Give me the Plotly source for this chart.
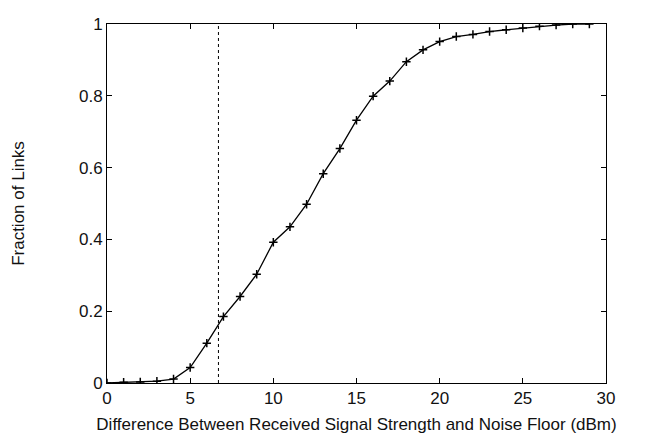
import plotly.graph_objects as go

x_vals = list(range(0, 30))
y_vals = [0.0, 0.002, 0.003, 0.005, 0.011, 0.043, 0.111, 0.185, 0.241, 0.303,
          0.392, 0.435, 0.498, 0.583, 0.653, 0.732, 0.799, 0.841, 0.895, 0.928,
          0.951, 0.965, 0.971, 0.979, 0.984, 0.989, 0.994, 0.997, 1.0, 1.0]
threshold_x = 6.7
x_ticks = [0, 5, 10, 15, 20, 25, 30]
y_ticks = [0, 0.2, 0.4, 0.6, 0.8, 1]
y_tick_labels = ["0", "0.2", "0.4", "0.6", "0.8", "1"]

fig = go.Figure()
fig.add_trace(go.Scatter(
    x=x_vals, y=y_vals, mode="lines+markers",
    line=dict(color="black", width=1.3),
    marker=dict(symbol="cross-thin", size=6, line=dict(color="black", width=1.5)),
    showlegend=False,
))
fig.add_trace(go.Scatter(
    x=[threshold_x, threshold_x], y=[0, 1], mode="lines",
    line=dict(color="black", width=1, dash="dot"),
    showlegend=False,
))

font = dict(family="Liberation Sans, Arial, sans-serif", size=17, color="#111")
fig.update_layout(
    width=657, height=438,
    margin=dict(l=99, r=59, t=16, b=63),
    plot_bgcolor="white", paper_bgcolor="white",
    font=font,
)
fig.update_xaxes(
    range=[0, 30], tickvals=x_ticks, ticks="inside", ticklen=5, tickcolor="black",
    showline=True, linecolor="black", linewidth=1, mirror="ticks",
    showgrid=False, zeroline=False, automargin=False,
    title=dict(text="Difference Between Received Signal Strength and Noise Floor (dBm)",
               standoff=10, font=font),
    tickfont=font,
)
fig.update_yaxes(
    range=[0, 1], tickvals=y_ticks, ticktext=y_tick_labels, ticks="inside", ticklen=5,
    tickcolor="black",
    showline=True, linecolor="black", linewidth=1, mirror="ticks",
    showgrid=False, zeroline=False, automargin=False,
    title=dict(text="Fraction of Links", standoff=50, font=font),
    tickfont=font,
)

fig.write_html("out.html")
